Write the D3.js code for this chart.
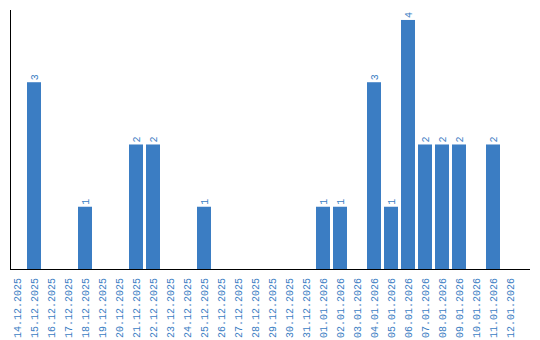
<!DOCTYPE html>
<html>
<head>
    <meta charset="utf-8">
    <title>Daily counts</title>
    <script type="text/javascript" src="https://d3js.org/d3.v7.min.js"></script>
    <style>
        body { margin: 0; background: white; }
        .canvas { font: 10px "Liberation Mono", monospace; width: 540px; height: 340px; display: block; }
    </style>
</head>
<body>
    <svg class="canvas"></svg>
    <script type="text/javascript">
        var dates = ['14.12.2025', '15.12.2025', '16.12.2025', '17.12.2025', '18.12.2025', '19.12.2025',
            '20.12.2025', '21.12.2025', '22.12.2025', '23.12.2025', '24.12.2025', '25.12.2025',
            '26.12.2025', '27.12.2025', '28.12.2025', '29.12.2025', '30.12.2025', '31.12.2025',
            '01.01.2026', '02.01.2026', '03.01.2026', '04.01.2026', '05.01.2026', '06.01.2026',
            '07.01.2026', '08.01.2026', '09.01.2026', '10.01.2026', '11.01.2026', '12.01.2026']
        var counts = [0, 3, 0, 0, 1, 0,
            0, 2, 2, 0, 0, 1,
            0, 0, 0, 0, 0, 0,
            1, 1, 0, 3, 1, 4,
            2, 2, 2, 0, 2, 0]

        var blue = '#3b7dc3'
        var svg = d3.select('.canvas')

        var x = d3.scaleBand()
            .domain(dates)
            .range([8.5, 518.5])
            .paddingInner(3 / 17)
            .paddingOuter(3 / 34)

        var y = d3.scaleLinear()
            .domain([0, 4.16])
            .range([269, 10])

        var data = dates.map((d, i) => ({ date: d, value: counts[i] }))

        // bars
        svg.selectAll('.bar')
            .data(data.filter(d => d.value > 0))
            .enter()
            .append('rect')
            .attr('x', d => x(d.date))
            .attr('y', d => y(d.value))
            .attr('width', x.bandwidth())
            .attr('height', d => y(0) - y(d.value))
            .style('fill', blue)

        // value labels, rotated
        svg.selectAll('.val')
            .data(data.filter(d => d.value > 0))
            .enter()
            .append('text')
            .attr('transform', d => 'translate(' + (x(d.date) + x.bandwidth() / 2) + ',' + (y(d.value) - 2) + ') rotate(-90)')
            .attr('dy', '0.35em')
            .style('fill', blue)
            .text(d => d.value)

        // date labels
        svg.selectAll('.lbl')
            .data(dates)
            .enter()
            .append('text')
            .attr('transform', d => 'translate(' + (x(d) + x.bandwidth() / 2) + ',278) rotate(-90)')
            .attr('dy', '0.35em')
            .attr('text-anchor', 'end')
            .style('fill', blue)
            .text(d => d)

        // axis lines
        svg.append('line')
            .attr('x1', 10.5).attr('x2', 10.5)
            .attr('y1', 10).attr('y2', 270)
            .style('stroke', 'black')
        svg.append('line')
            .attr('x1', 10).attr('x2', 530)
            .attr('y1', 269.5).attr('y2', 269.5)
            .style('stroke', 'black')
    </script>
</body>
</html>
